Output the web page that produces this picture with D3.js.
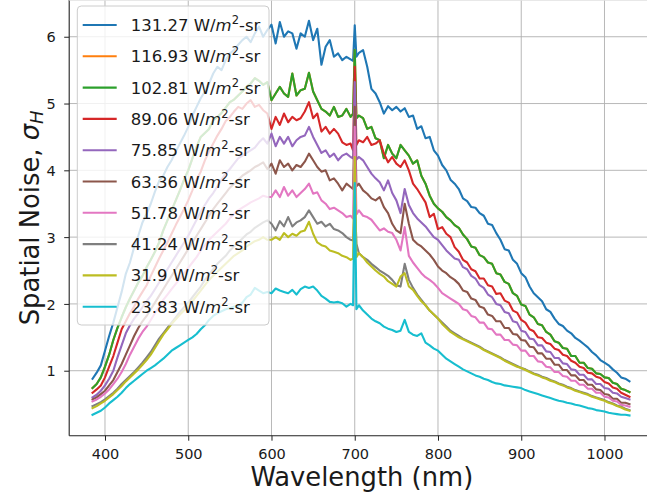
<!DOCTYPE html>
<html>
<head>
<meta charset="utf-8">
<script src="https://cdn.jsdelivr.net/npm/d3@7"></script>
<style>
  body { margin: 0; background: #fff; }
  svg { display: block; }
  text { font-family: "DejaVu Sans", sans-serif; fill: #1a1a1a; }
</style>
</head>
<body>
<svg id="chart" width="647" height="500"></svg>
<script>
// Wavelength samples (nm)
const wavelength = [
  385,390,395,400,405,410,415,420,425,430,
  435,440,445,450,455,460,465,470,475,480,
  485,490,495,500,505,510,515,520,525,530,
  535,540,545,550,555,560,565,570,575,580,
  585,590,595,600,605,610,615,620,625,630,
  635,640,645,650,655,660,665,670,675,680,
  685,690,695,698,700,702,705,710,715,720,
  725,730,735,740,745,750,755,760,765,770,
  775,780,785,790,795,800,805,810,815,820,
  825,830,835,840,845,850,855,860,865,870,
  875,880,885,890,895,900,905,910,915,920,
  925,930,935,940,945,950,955,960,965,970,
  975,980,985,990,995,1000,1005,1010,1015,1020,
  1025,1030
];

// Spatial noise sigma_H for each input radiance level
const sigma131 = [
  0.88,0.97,1.08,1.30,1.52,1.72,1.95,2.18,2.45,2.62,
  2.85,3.02,3.22,3.35,3.50,3.68,3.84,3.92,4.05,4.15,
  4.28,4.40,4.52,4.65,4.82,4.95,5.08,5.18,5.30,5.45,
  5.55,5.50,5.65,5.75,5.80,5.88,5.95,6.00,5.92,6.05,
  6.15,6.00,6.10,6.18,5.90,6.22,6.00,6.08,6.05,5.82,
  6.05,6.00,6.24,5.95,6.12,5.58,5.85,5.95,5.70,5.75,
  5.65,5.70,5.66,5.64,6.17,5.70,5.76,5.80,5.55,5.22,
  5.15,5.02,4.85,4.96,4.90,4.95,4.88,4.93,4.80,4.82,
  4.62,4.66,4.48,4.50,4.30,4.22,4.08,4.00,3.86,3.80,
  3.72,3.58,3.54,3.45,3.44,3.36,3.32,3.20,3.18,3.06,
  2.96,2.82,2.80,2.66,2.60,2.46,2.40,2.26,2.16,2.10,
  2.04,1.92,1.88,1.78,1.70,1.67,1.60,1.56,1.49,1.45,
  1.40,1.35,1.28,1.23,1.16,1.12,1.08,1.02,0.97,0.90,
  0.88,0.84
];
const sigma103 = [
  0.74,0.80,0.90,1.06,1.24,1.46,1.64,1.80,1.95,2.08,
  2.20,2.32,2.42,2.55,2.66,2.78,2.92,3.10,3.25,3.40,
  3.55,3.70,3.86,4.00,4.18,4.35,4.50,4.56,4.62,4.75,
  4.80,4.86,4.94,5.02,5.06,5.12,5.18,5.25,5.30,5.38,
  5.34,5.28,5.32,5.05,5.15,5.25,5.15,5.10,5.45,5.12,
  5.20,5.22,5.46,5.18,5.05,4.92,4.88,4.82,4.95,4.80,
  4.82,4.92,4.80,4.85,5.80,4.78,4.82,4.78,4.62,4.65,
  4.48,4.45,4.18,4.38,4.25,4.18,4.38,4.30,4.22,4.10,
  4.15,3.92,3.80,3.62,3.50,3.43,3.38,3.30,3.25,3.18,
  3.14,3.04,2.97,2.86,2.84,2.73,2.70,2.62,2.60,2.46,
  2.44,2.33,2.30,2.16,2.12,1.99,1.97,1.84,1.80,1.70,
  1.68,1.58,1.54,1.44,1.42,1.34,1.33,1.22,1.22,1.12,
  1.12,1.04,1.03,0.96,0.95,0.90,0.89,0.82,0.80,0.73,
  0.71,0.68
];
// The 116.93 run carries the same values as 102.81 and is drawn beneath it
const sigma117 = sigma103.slice();
const sigma89 = [
  0.67,0.72,0.78,0.90,1.06,1.22,1.42,1.62,1.74,1.86,
  1.96,2.08,2.18,2.28,2.42,2.55,2.68,2.80,2.92,3.05,
  3.18,3.30,3.42,3.55,3.70,3.86,3.98,4.15,4.28,4.40,
  4.52,4.62,4.74,4.80,4.88,4.95,4.92,5.00,5.05,4.95,
  4.98,4.90,4.85,4.62,4.80,4.68,4.85,4.72,4.80,4.75,
  4.78,4.88,5.02,4.78,4.85,4.58,4.65,4.55,4.62,4.55,
  4.42,4.38,4.40,4.30,5.55,4.38,4.45,4.42,4.50,4.38,
  4.40,4.45,4.25,4.12,4.20,4.10,4.05,4.15,4.00,3.80,
  3.72,3.62,3.52,3.30,3.35,3.12,3.15,3.05,3.00,2.85,
  2.78,2.66,2.62,2.52,2.49,2.38,2.38,2.28,2.26,2.15,
  2.16,2.05,2.02,1.90,1.87,1.76,1.72,1.62,1.59,1.50,
  1.49,1.42,1.40,1.33,1.31,1.24,1.22,1.15,1.12,1.06,
  1.04,0.97,0.96,0.91,0.89,0.83,0.81,0.75,0.73,0.67,
  0.64,0.61
];
const sigma76 = [
  0.60,0.64,0.70,0.78,0.88,1.00,1.20,1.38,1.56,1.68,
  1.78,1.86,1.95,2.04,2.12,2.22,2.32,2.42,2.52,2.62,
  2.72,2.82,2.92,3.02,3.14,3.26,3.38,3.48,3.58,3.66,
  3.76,3.86,3.95,4.02,4.10,4.18,4.22,4.26,4.30,4.34,
  4.42,4.48,4.40,4.55,4.36,4.50,4.40,4.50,4.36,4.45,
  4.50,4.52,4.65,4.50,4.38,4.26,4.30,4.20,4.25,4.15,
  4.22,4.25,4.20,4.18,5.32,4.16,4.20,4.15,4.05,3.95,
  3.88,3.82,3.70,3.85,3.66,3.55,3.36,3.72,3.48,3.36,
  3.28,3.22,3.16,3.08,3.00,2.96,2.88,2.80,2.74,2.68,
  2.66,2.55,2.52,2.42,2.38,2.28,2.24,2.14,2.10,2.00,
  1.98,1.88,1.86,1.74,1.72,1.60,1.58,1.48,1.47,1.38,
  1.38,1.29,1.28,1.19,1.19,1.11,1.10,1.02,1.01,0.94,
  0.94,0.87,0.87,0.80,0.80,0.74,0.73,0.67,0.66,0.61,
  0.59,0.57
];
const sigma63 = [
  0.57,0.60,0.65,0.70,0.78,0.86,0.98,1.10,1.24,1.38,
  1.52,1.64,1.74,1.82,1.92,2.02,2.12,2.22,2.32,2.42,
  2.52,2.62,2.72,2.82,2.92,3.02,3.12,3.22,3.32,3.42,
  3.50,3.58,3.66,3.74,3.80,3.86,3.92,3.96,4.00,4.05,
  4.08,4.12,4.02,4.10,3.95,4.15,4.05,4.10,4.00,4.08,
  4.05,4.13,4.25,4.15,4.05,3.98,4.00,3.85,3.88,3.80,
  3.70,3.80,3.75,3.72,4.95,3.76,3.80,3.70,3.65,3.58,
  3.55,3.60,3.45,3.36,3.20,3.10,3.06,3.50,3.20,2.96,
  2.90,2.86,2.80,2.74,2.66,2.56,2.50,2.46,2.40,2.36,
  2.30,2.20,2.18,2.08,2.06,1.96,1.94,1.84,1.82,1.74,
  1.74,1.64,1.64,1.55,1.54,1.46,1.45,1.36,1.35,1.26,
  1.26,1.18,1.18,1.09,1.09,1.01,1.01,0.93,0.93,0.86,
  0.86,0.79,0.79,0.72,0.71,0.65,0.64,0.58,0.58,0.52,
  0.52,0.50
];
const sigma52 = [
  0.54,0.57,0.61,0.66,0.72,0.80,0.88,0.98,1.10,1.24,
  1.36,1.48,1.58,1.66,1.76,1.86,1.96,2.06,2.14,2.22,
  2.30,2.38,2.46,2.54,2.62,2.70,2.80,2.88,2.96,3.02,
  3.08,3.14,3.20,3.28,3.35,3.40,3.44,3.48,3.52,3.55,
  3.58,3.62,3.60,3.60,3.70,3.60,3.75,3.62,3.70,3.60,
  3.66,3.72,3.80,3.65,3.67,3.55,3.50,3.42,3.44,3.40,
  3.36,3.30,3.32,3.28,4.65,3.34,3.40,3.32,3.30,3.26,
  3.18,3.10,3.13,3.08,3.06,2.96,2.80,3.15,2.72,2.62,
  2.54,2.46,2.40,2.36,2.31,2.24,2.16,2.12,2.08,2.04,
  2.00,1.92,1.90,1.82,1.80,1.72,1.72,1.63,1.62,1.54,
  1.54,1.46,1.46,1.39,1.38,1.30,1.30,1.22,1.22,1.14,
  1.13,1.06,1.05,0.98,0.98,0.92,0.91,0.85,0.85,0.79,
  0.79,0.73,0.73,0.67,0.67,0.61,0.60,0.55,0.54,0.49,
  0.48,0.46
];
const sigma41 = [
  0.47,0.50,0.53,0.57,0.62,0.67,0.73,0.80,0.86,0.92,
  0.98,1.05,1.12,1.20,1.28,1.38,1.48,1.56,1.64,1.72,
  1.80,1.88,1.95,2.02,2.10,2.18,2.26,2.36,2.44,2.52,
  2.60,2.66,2.72,2.80,2.86,2.92,2.98,3.04,3.08,3.14,
  3.18,3.22,3.25,3.20,3.10,3.24,3.16,3.30,3.16,3.22,
  3.25,3.30,3.40,3.30,3.20,3.23,3.16,3.20,3.12,3.10,
  3.06,3.00,2.96,2.95,3.60,2.90,2.76,2.70,2.66,2.60,
  2.55,2.50,2.46,2.42,2.36,2.28,2.26,2.60,2.36,2.24,
  2.14,2.06,1.98,1.90,1.84,1.78,1.72,1.66,1.60,1.56,
  1.52,1.48,1.45,1.42,1.39,1.36,1.32,1.29,1.26,1.23,
  1.20,1.16,1.13,1.10,1.07,1.04,1.02,0.99,0.96,0.94,
  0.91,0.89,0.86,0.84,0.81,0.79,0.76,0.74,0.71,0.69,
  0.67,0.65,0.62,0.60,0.58,0.56,0.53,0.51,0.48,0.46,
  0.43,0.41
];
const sigma32 = [
  0.44,0.47,0.51,0.55,0.60,0.65,0.71,0.77,0.84,0.90,
  0.96,1.02,1.09,1.16,1.24,1.34,1.44,1.54,1.62,1.70,
  1.77,1.84,1.90,1.97,2.04,2.12,2.20,2.28,2.36,2.42,
  2.48,2.54,2.60,2.66,2.72,2.76,2.80,2.86,2.90,2.94,
  2.96,3.00,2.96,2.96,3.00,2.96,3.06,3.00,3.05,3.02,
  3.08,3.10,3.23,3.05,2.92,2.88,2.86,2.80,2.78,2.76,
  2.72,2.70,2.66,2.68,4.20,2.70,2.76,2.70,2.62,2.56,
  2.50,2.45,2.41,2.34,2.30,2.26,2.41,2.46,2.26,2.21,
  2.12,2.04,1.98,1.90,1.84,1.78,1.70,1.64,1.58,1.54,
  1.50,1.47,1.44,1.41,1.38,1.35,1.31,1.28,1.25,1.22,
  1.19,1.15,1.12,1.09,1.06,1.04,1.01,0.98,0.95,0.93,
  0.90,0.88,0.85,0.83,0.80,0.78,0.75,0.73,0.70,0.68,
  0.66,0.64,0.61,0.59,0.57,0.55,0.52,0.50,0.47,0.45,
  0.42,0.40
];
const sigma24 = [
  0.34,0.37,0.40,0.45,0.51,0.56,0.61,0.67,0.74,0.80,
  0.85,0.90,0.95,1.00,1.04,1.08,1.13,1.18,1.24,1.30,
  1.34,1.38,1.42,1.46,1.50,1.55,1.62,1.68,1.76,1.82,
  1.86,1.89,1.92,1.94,1.96,1.97,2.02,2.10,2.14,2.24,
  2.20,2.16,2.18,2.16,2.23,2.20,2.18,2.16,2.21,2.14,
  2.22,2.26,2.24,2.26,2.20,2.12,2.08,2.03,2.02,2.03,
  2.01,1.96,2.00,1.98,3.81,1.92,1.98,1.90,1.84,1.78,
  1.74,1.71,1.66,1.63,1.61,1.58,1.60,1.76,1.58,1.54,
  1.52,1.56,1.42,1.38,1.33,1.30,1.24,1.18,1.14,1.10,
  1.06,1.02,0.99,0.96,0.93,0.91,0.88,0.86,0.83,0.81,
  0.80,0.78,0.77,0.76,0.75,0.74,0.71,0.69,0.67,0.65,
  0.63,0.61,0.59,0.57,0.55,0.54,0.52,0.51,0.49,0.48,
  0.46,0.44,0.43,0.41,0.40,0.39,0.37,0.36,0.35,0.34,
  0.34,0.33
];

const radianceLabels = ["131.27", "116.93", "102.81", "89.06", "75.85",
                        "63.36", "51.78", "41.24", "31.9", "23.83"];
const seriesValues = [sigma131, sigma117, sigma103, sigma89, sigma76,
                      sigma63, sigma52, sigma41, sigma32, sigma24];
const seriesColors = ["#1f77b4", "#ff7f0e", "#2ca02c", "#d62728", "#9467bd",
                      "#8c564b", "#e377c2", "#7f7f7f", "#bcbd22", "#17becf"];
const xTickValues = [400, 500, 600, 700, 800, 900, 1000];
const yTickValues = [1, 2, 3, 4, 5, 6];

const svg = d3.select("#chart");
const W = 647, H = 500;
svg.append("rect").attr("width", W).attr("height", H).attr("fill", "#fff");

const plotL = 69.2, plotR = 654.45, plotT = 0, plotB = 435.7;
const x = d3.scaleLinear().domain([357, 1060]).range([plotL, plotR]);
const y = d3.scaleLinear().domain([0.027, 6.55]).range([plotB, plotT]);

svg.append("defs").append("clipPath").attr("id", "plot-clip")
  .append("rect").attr("x", plotL).attr("y", plotT)
  .attr("width", plotR - plotL).attr("height", plotB - plotT);

// grid
const grid = svg.append("g").attr("stroke", "#b0b0b0").attr("stroke-width", 0.9);
grid.selectAll("line.vx").data(xTickValues).join("line")
  .attr("x1", d => x(d)).attr("x2", d => x(d))
  .attr("y1", plotT).attr("y2", plotB);
grid.selectAll("line.hy").data(yTickValues).join("line")
  .attr("x1", plotL).attr("x2", plotR)
  .attr("y1", d => y(d)).attr("y2", d => y(d));

// series
const line = d3.line()
  .x((d, i) => x(wavelength[i]))
  .y(d => y(d));
svg.append("g").attr("clip-path", "url(#plot-clip)")
  .selectAll("path").data(seriesValues).join("path")
  .attr("d", d => line(d))
  .attr("fill", "none")
  .attr("stroke", (d, i) => seriesColors[i])
  .attr("stroke-width", 2.1)
  .attr("stroke-linejoin", "round")
  .attr("stroke-linecap", "square");

// axes
const intFmt = d3.format("d");
const xAxis = svg.append("g").attr("transform", `translate(0,${plotB})`)
  .call(d3.axisBottom(x).tickValues(xTickValues).tickFormat(intFmt)
    .tickSize(5).tickSizeOuter(0));
xAxis.select(".domain").remove();
xAxis.selectAll(".tick line").attr("stroke", "#222").attr("stroke-width", 1);
xAxis.selectAll(".tick text").attr("y", 23.3).attr("dy", 0)
  .attr("font-size", 14.5).attr("font-family", "DejaVu Sans").attr("fill", "#1a1a1a");

const yAxis = svg.append("g").attr("transform", `translate(${plotL},0)`)
  .call(d3.axisLeft(y).tickValues(yTickValues).tickFormat(intFmt)
    .tickSize(5).tickSizeOuter(0));
yAxis.select(".domain").remove();
yAxis.selectAll(".tick line").attr("stroke", "#222").attr("stroke-width", 1);
yAxis.selectAll(".tick text").attr("x", -13.5).attr("dy", "0.36em")
  .attr("font-size", 14.5).attr("font-family", "DejaVu Sans").attr("fill", "#1a1a1a");

// spines
const spines = svg.append("g").attr("stroke", "#222").attr("stroke-width", 1.1).attr("fill", "none");
spines.append("line").attr("x1", plotL).attr("x2", plotL).attr("y1", plotT - 1).attr("y2", plotB);
spines.append("line").attr("x1", plotL).attr("x2", plotR).attr("y1", plotB).attr("y2", plotB);
spines.append("line").attr("x1", plotL).attr("x2", plotR).attr("y1", 0.3).attr("y2", 0.3)
  .attr("stroke", "#e0e0e0");

// axis titles
svg.append("text")
  .attr("x", (plotL + plotR) / 2).attr("y", 486)
  .attr("text-anchor", "middle").attr("font-size", 25.8)
  .text("Wavelength (nm)");

const yTitle = svg.append("text")
  .attr("transform", `translate(38.5,${(plotT + plotB) / 2}) rotate(-90)`)
  .attr("text-anchor", "middle").attr("font-size", 25.8);
yTitle.append("tspan").text("Spatial Noise, ");
yTitle.append("tspan").attr("font-style", "italic").text("σ");
yTitle.append("tspan").attr("font-style", "italic").attr("font-size", 18)
  .attr("dy", 4.5).text("H");

// legend
const legend = svg.append("g");
legend.append("rect")
  .attr("x", 77.3).attr("y", 6).attr("width", 191.7).attr("height", 319)
  .attr("rx", 4).attr("fill", "#fff").attr("fill-opacity", 0.8)
  .attr("stroke", "#cccccc").attr("stroke-width", 1);

const rowY = i => 25 + i * 31.3;
const rows = legend.selectAll("g.row").data(radianceLabels).join("g");
rows.append("line")
  .attr("x1", 82.7).attr("x2", 116.7)
  .attr("y1", (d, i) => rowY(i)).attr("y2", (d, i) => rowY(i))
  .attr("stroke", (d, i) => seriesColors[i]).attr("stroke-width", 2.1);
const labels = rows.append("text")
  .attr("x", 130.7).attr("y", (d, i) => rowY(i) + 6)
  .attr("font-size", 16.5);
labels.append("tspan").text(d => d + " W/");
labels.append("tspan").attr("font-style", "italic").text("m");
labels.append("tspan").attr("font-size", 11.5).attr("dy", -7).text("2");
labels.append("tspan").attr("dy", 7).text("-sr");
</script>
</body>
</html>
